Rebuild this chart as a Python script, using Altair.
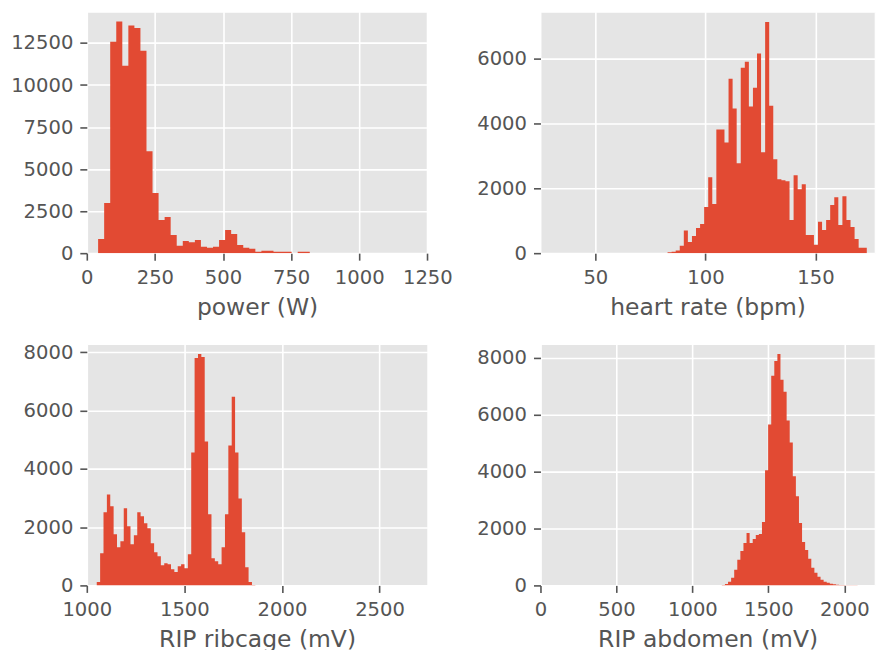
import altair as alt
import pandas as pd

BAR = "#E24A33"
GRAY = "#555555"
FONT = "DejaVu Sans"

# ---- data ----
power_start, power_width = 41.5, 22.2
power_counts = [848, 2979, 12568, 13772, 11148, 13535, 13397, 12035, 6057, 3571,
                1973, 2150, 1085, 434, 730, 651, 789, 375, 316, 375,
                789, 1381, 1144, 493, 316, 256, 79, 138, 138, 79,
                79, 79, 0, 79, 79]
power_ticks_x = [0, 250, 500, 750, 1000, 1250]
power_ticks_y = [0, 2500, 5000, 7500, 10000, 12500]

hr_start, hr_width = 82.8, 1.847
hr_counts = [31, 41, 82, 225, 696, 348, 532, 777, 900, 1422,
             2343, 1514, 3816, 3816, 3417, 5381, 4460, 2772, 5719, 5903,
             4522, 5105, 6158, 3110, 7130, 4552, 2895, 2281, 2251, 2220,
             1023, 2404, 1974, 2128, 563, 563, 256, 972, 716, 1023,
             1483, 1729, 870, 1760, 1023, 808, 440, 164, 164]
hr_ticks_x = [50, 100, 150]
hr_ticks_y = [0, 2000, 4000, 6000]

rib_start, rib_width = 1051, 17.29
rib_counts = [114, 1105, 2507, 3122, 2712, 1755, 1311, 1516, 2644, 2028,
              1413, 1721, 2507, 2370, 2131, 1960, 1447, 1140, 1003, 695,
              764, 729, 558, 456, 661, 729, 593, 1071, 4558, 7806,
              7943, 7840, 4934, 2439, 934, 832, 729, 1311, 2439, 4798,
              6473, 4558, 2986, 1823, 627, 114, 15]
rib_ticks_x = [1000, 1500, 2000, 2500]
rib_ticks_y = [0, 2000, 4000, 6000, 8000]

abd_start, abd_width = 1194, 20.3
abd_counts = [10, 47, 128, 268, 548, 898, 1213, 1493, 1842, 1493,
              1632, 1772, 1807, 2227, 4046, 5655, 7369, 7894, 8139, 7229,
              6809, 5795, 5025, 3836, 3137, 2192, 1527, 1248, 933, 618,
              443, 303, 198, 128, 93, 58, 40, 25, 15, 10,
              6, 4, 3, 2]
abd_ticks_x = [0, 500, 1000, 1500, 2000]
abd_ticks_y = [0, 2000, 4000, 6000, 8000]


def hist_frame(start, width, counts):
    # bin left edges plus the closing right edge (step-after outline)
    n = len(counts)
    return pd.DataFrame({
        "edge": [start + i * width for i in range(n + 1)],
        "freq": list(counts) + [counts[-1]],
        "base": [0] * (n + 1),
    })


def panel(df, xdom, xticks, ydom, yticks, xtitle, width):
    return alt.Chart(df).mark_area(
        color=BAR, interpolate="step-after", clip=True, opacity=1
    ).encode(
        x=alt.X("edge:Q",
                scale=alt.Scale(domain=xdom, nice=False, zero=False),
                axis=alt.Axis(values=xticks, title=xtitle, format="d",
                              labelPadding=8, titlePadding=7,
                              minExtent=35, maxExtent=35,
                              labelFlush=False, labelOverlap=False)),
        y=alt.Y("freq:Q", stack=None,
                scale=alt.Scale(domain=ydom, nice=False),
                axis=alt.Axis(values=yticks, title=None, format="d",
                              labelPadding=7, minExtent=77, maxExtent=77,
                              labelFlush=False, labelOverlap=False)),
        y2="base:Q",
    ).properties(width=width, height=242)


p1 = panel(hist_frame(power_start, power_width, power_counts),
           [0, 1250], power_ticks_x, [0, 14360], power_ticks_y, "power (W)", 341.3)
p2 = panel(hist_frame(hr_start, hr_width, hr_counts),
           [25.07, 176.9], hr_ticks_x, [0, 7450], hr_ticks_y, "heart rate (bpm)", 335)
p3 = panel(hist_frame(rib_start, rib_width, rib_counts),
           [1000, 2745], rib_ticks_x, [0, 8285], rib_ticks_y, "RIP ribcage (mV)", 341.3)
p4 = panel(hist_frame(abd_start, abd_width, abd_counts),
           [0, 2200], abd_ticks_x, [0, 8490], abd_ticks_y, "RIP abdomen (mV)", 335)

chart = alt.concat(
    p1, p2, p3, p4, columns=2,
    spacing={"row": 91, "column": 112.7},
    bounds="flush",
).properties(
    padding={"left": 9, "top": 10, "right": 0, "bottom": 0},
    background="white",
).configure_view(
    fill="#E5E5E5", stroke="white", strokeWidth=1,
).configure_axis(
    labelFont=FONT, labelFontSize=19.6, labelColor=GRAY,
    titleFont=FONT, titleFontSize=23.5, titleColor=GRAY, titleFontWeight="normal",
    tickColor=GRAY, tickSize=7, tickWidth=1.6,
    gridColor="white", gridWidth=1.6, domain=False,
)

chart.save("out.html", embed_options={"renderer": "svg", "actions": False})
